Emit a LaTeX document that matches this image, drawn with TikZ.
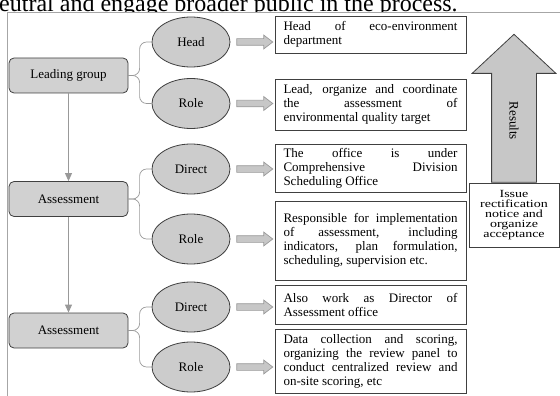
\documentclass[tikz,border=0pt]{standalone}
\usepackage{fontspec}
\setmainfont{Liberation Serif}
\usetikzlibrary{positioning,calc,arrows.meta,shapes.geometric,shapes.arrows}

\begin{document}
\begin{tikzpicture}[
  x=1pt, y=-1pt,
  level/.style={
    draw=black!75, rounded corners=5pt, fill=black!18, line width=0.8pt,
    minimum width=119pt, minimum height=35pt, inner sep=0pt,
    font=\fontsize{13}{14}\selectfont
  },
  part/.style={
    ellipse, draw=black!75, fill=black!20, line width=0.8pt,
    minimum width=78pt, minimum height=50pt, inner sep=0pt,
    font=\fontsize{13}{14}\selectfont
  },
  info/.style={
    draw=black!75, fill=white, line width=0.8pt,
    text width=174pt, align=justify, inner xsep=8.5pt, inner ysep=3pt,
    font=\fontsize{13}{14}\selectfont
  },
  brace/.style={draw=black!40, line width=0.7pt, rounded corners=7pt},
  down/.style={-{Triangle[length=8pt,width=7pt]}, draw=black!40, line width=0.9pt},
  fat/.style={
    single arrow, draw=black!40, fill=black!22, line width=0.7pt,
    minimum height=36pt, inner sep=3pt, single arrow head extend=3.5pt,
    single arrow tip angle=75
  },
]
\useasboundingbox (0,0) rectangle (560,396);

%% --- Page text and frame --------------------------------------------
\begin{scope}
  \clip (0,0) rectangle (560,12.5);
  \node[anchor=base west, inner sep=0pt, font=\fontsize{24}{24}\selectfont]
    (cap) at (-1,12) {eutral and engage broader public in the process.};
\end{scope}
\draw[black!35, line width=0.8pt] (7.5,396) -- (7.5,12.5) -- (560,12.5);

%% --- Levels -----------------------------------------------------------
\node[level] (Lg) at (68.5, 75.5)  {Leading group};
\node[level] (A1) at (68.5, 199)   {Assessment};
\node[level] (A2) at (68.5, 330.5) {Assessment};

\draw[down] (Lg) -- (A1);
\draw[down] (A1) -- (A2);

%% --- Parts of each level ---------------------------------------------
\node[part] (head)    at (191, 42)    {Head};
\node[part] (role1)   at (191, 103.5) {Role};
\node[part] (direct1) at (191, 169)   {Direct};
\node[part] (role2)   at (191, 239)   {Role};
\node[part] (direct2) at (191, 307)   {Direct};
\node[part] (role3)   at (191, 367)   {Role};

\draw[brace] (Lg.east) -| ($(head.west)+(-12,0)$) -- (head.west);
\draw[brace] (Lg.east) -| ($(role1.west)+(-12,0)$) -- (role1.west);
\draw[brace] (A1.east) -| ($(direct1.west)+(-12,0)$) -- (direct1.west);
\draw[brace] (A1.east) -| ($(role2.west)+(-12,0)$) -- (role2.west);
\draw[brace] (A2.east) -| ($(direct2.west)+(-12,0)$) -- (direct2.west);
\draw[brace] (A2.east) -| ($(role3.west)+(-12,0)$) -- (role3.west);

\foreach \p in {head,role1,direct1,role2,direct2,role3}
  \node[fat, right=6pt of \p] (f\p) {};

%% --- Descriptions -----------------------------------------------------
\node[info, minimum height=37pt] (b1) at (370.5, 34.5)
  {Head of eco-environment\linebreak department};
\node[info, minimum height=51pt] (b2) at (370.5, 104.5)
  {Lead, organize and coordinate\linebreak the assessment of\linebreak
   environmental quality target};
\node[info, minimum height=48pt] (b3) at (370.5, 168.5)
  {The office is under\linebreak Comprehensive Division\linebreak
   Scheduling Office};
\node[info, minimum height=79pt] (b4) at (370.5, 240.5)
  {Responsible for implementation\linebreak of assessment, including\linebreak
   indicators, plan formulation,\linebreak scheduling, supervision etc.\par
   \vspace*{18pt}};
\node[info, minimum height=39pt] (b5) at (370.5, 304.5)
  {Also work as Director of\linebreak Assessment office};
\node[info, minimum height=64pt] (b6) at (370.5, 361)
  {Data collection and scoring,\linebreak organizing the review panel to\linebreak
   conduct centralized review and\linebreak on-site scoring, etc};

%% --- Results ----------------------------------------------------------
\node[draw=black!75, fill=white, line width=0.8pt,
  yscale=0.78, transform shape,
  minimum width=90pt, minimum height=82pt, inner sep=0pt,
  align=center, font=\fontsize{14}{13}\selectfont
] (issue) at (514, 215)
  {Issue\\rectification\\notice and\\organize\\acceptance};

\node[single arrow, shape border rotate=90, anchor=tail,
  draw=black!75, fill=black!22, line width=0.8pt, inner sep=22pt,
  minimum height=148pt,
  single arrow head extend=19.5pt, single arrow tip angle=94
] (res) at (issue.north) {};
\node[rotate=-90, font=\fontsize{13}{14}\selectfont]
  (resl) at ($(res.tip)+(0,87)$) {Results};

\end{tikzpicture}
\end{document}
